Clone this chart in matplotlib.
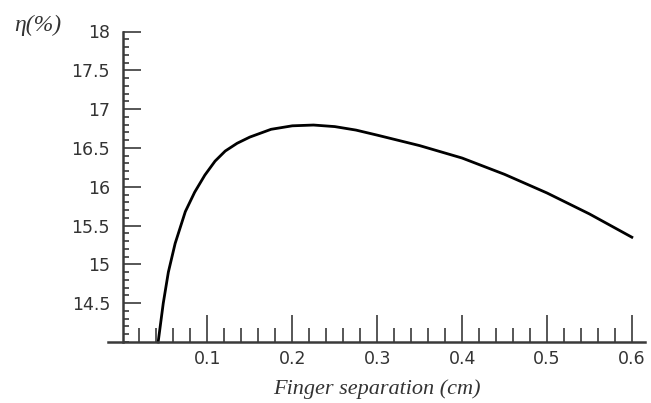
import numpy as np
import matplotlib
matplotlib.use("Agg")
import matplotlib.pyplot as plt
from matplotlib.ticker import FixedLocator, MultipleLocator

# values
separation = [0.042, 0.048, 0.054, 0.062, 0.074, 0.085, 0.097, 0.109, 0.121,
              0.135, 0.15, 0.175, 0.2, 0.225, 0.25, 0.275, 0.3, 0.35, 0.4,
              0.45, 0.5, 0.55, 0.6]
efficiency = [14.0, 14.5, 14.9, 15.27, 15.68, 15.93, 16.15, 16.33, 16.46,
              16.56, 16.64, 16.74, 16.785, 16.795, 16.775, 16.73, 16.665, 16.53, 16.37,
              16.16, 15.92, 15.65, 15.35]

x_major = [0.1, 0.2, 0.3, 0.4, 0.5, 0.6]
x_labels = ["0.1", "0.2", "0.3", "0.4", "0.5", "0.6"]
y_major = [14.5, 15, 15.5, 16, 16.5, 17, 17.5, 18]
y_labels = ["14.5", "15", "15.5", "16", "16.5", "17", "17.5", "18"]

axis_col = "#3a3a3a"

fig = plt.figure(figsize=(6.51, 4.03), dpi=100)
ax = fig.add_axes([108 / 651, 61 / 403, 537 / 651, 310.5 / 403])

ax.plot(separation, efficiency, color="black", lw=2.0, clip_on=False)

ax.set_xlim(-0.0171, 0.6155)
ax.set_ylim(14, 18)

for s in ["top", "right"]:
    ax.spines[s].set_visible(False)
ax.spines["left"].set_position(("data", 0))
ax.spines["left"].set_bounds(14, 18)
for s in ["left", "bottom"]:
    ax.spines[s].set_color(axis_col)
    ax.spines[s].set_linewidth(1.8)

ax.set_xticks(x_major)
ax.set_xticklabels(x_labels)
# minor ticks every 0.02, skipping 0 where the y axis sits
ax.xaxis.set_minor_locator(FixedLocator(np.arange(1, 31) * 0.02))
ax.set_yticks(y_major)
ax.set_yticklabels(y_labels)
ax.yaxis.set_minor_locator(MultipleLocator(0.1))

ax.tick_params(axis="x", which="major", direction="in", length=19.5, width=1.2,
               color=axis_col, pad=6, labelsize=12.5, labelcolor="#333333")
ax.tick_params(axis="x", which="minor", direction="in", length=10, width=1.2, color=axis_col)
ax.tick_params(axis="y", which="major", direction="in", length=13, width=1.2,
               color=axis_col, pad=9, labelsize=12.5, labelcolor="#333333")
ax.tick_params(axis="y", which="minor", direction="in", length=4.5, width=1.2, color=axis_col)

ax.set_xlabel("Finger separation (cm)", family="Liberation Serif", style="italic",
              fontsize=16, color="#333333", labelpad=8)
fig.text(14 / 651, 1 - 25 / 403, "η(%)", family="Liberation Serif", style="italic",
         fontsize=17, color="#333333", ha="left", va="center")

fig.savefig("out.png", dpi=100, facecolor="white")
